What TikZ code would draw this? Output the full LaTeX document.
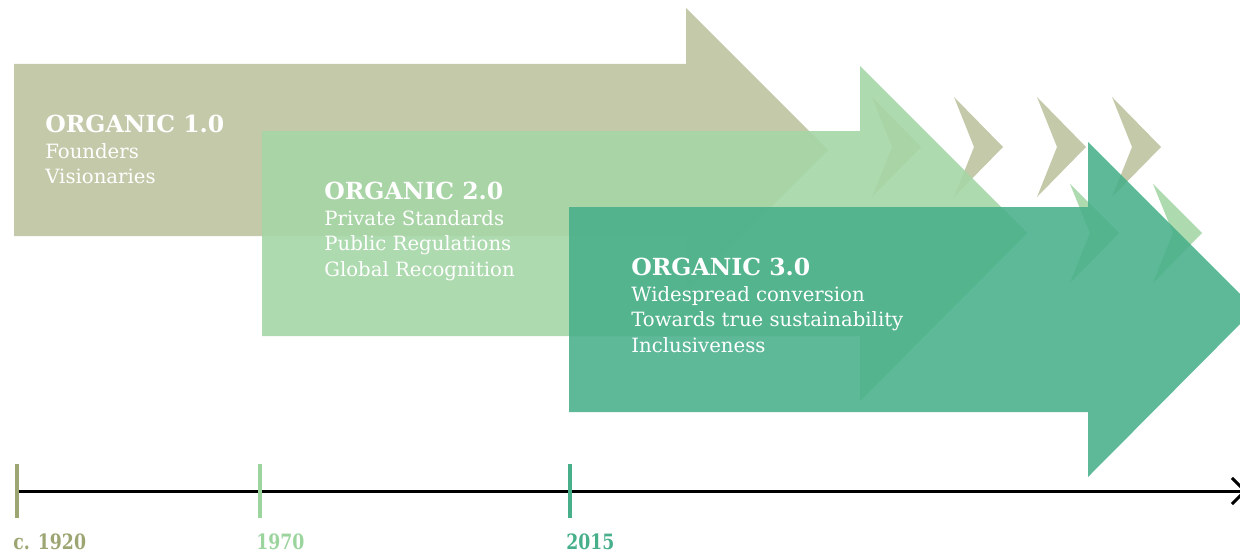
\documentclass[tikz,border=0pt]{standalone}
\usepackage{fontspec}
\setmainfont{DejaVu Serif}
\newfontfamily\yearfont{DejaVu Serif}[FakeStretch=0.82]
\usepackage{xcolor}
\usepackage{tikz}
\usetikzlibrary{arrows.meta,positioning}

\definecolor{orgOne}{HTML}{C4C9A9}
\definecolor{orgOneDark}{HTML}{9DA673}
\definecolor{orgTwo}{HTML}{A5D6A6}
\definecolor{orgTwoDark}{HTML}{9CD49E}
\definecolor{orgThree}{HTML}{47AF8A}
\newcommand{\phasetitle}[1]{{\fontsize{13.4}{14.5}\selectfont\bfseries #1}}

\begin{document}
\begin{tikzpicture}[x=0.02cm, y=-0.02cm,
    arrowOne/.style={fill=orgOne},
    arrowTwo/.style={fill=orgTwo, fill opacity=0.9},
    arrowThree/.style={fill=orgThree, fill opacity=0.88},
    phase/.style={text=white, align=left, inner sep=0pt, anchor=north west, font=\fontsize{11.2}{14.5}\selectfont},
    yeartick/.style={line width=0.08cm},
    year/.style={anchor=base west, inner sep=0pt, font=\yearfont\fontsize{12}{14}\selectfont\bfseries},
    timeline/.style={line width=0.06cm, -{Straight Barb[length=7.4pt, width=14.8pt]}}]
\useasboundingbox (0,0) rectangle (1240,554);
\clip (0,0) rectangle (1240,554);

% big arrows, back to front
\fill[arrowOne] (14,64) -- (686,64) -- (686,8) -- (828,150) -- (686,292) -- (686,236) -- (14,236) -- cycle;
\fill[arrowOne] (872,97) -- (921,147) -- (872,197) -- (892,147) -- cycle;
\fill[arrowOne] (954,97) -- (1003,147) -- (954,197) -- (974,147) -- cycle;
\fill[arrowOne] (1037,97) -- (1086,147) -- (1037,197) -- (1057,147) -- cycle;
\fill[arrowOne] (1112,97) -- (1161,147) -- (1112,197) -- (1132,147) -- cycle;

\fill[arrowTwo] (262,131) -- (860,131) -- (860,66) -- (1027,233) -- (860,401) -- (860,336) -- (262,336) -- cycle;
\fill[arrowTwo] (1070,184) -- (1119,233) -- (1070,283) -- (1090,233) -- cycle;
\fill[arrowTwo] (1153,184) -- (1202,233) -- (1153,283) -- (1173,233) -- cycle;

\fill[arrowThree] (569,207) -- (1088,207) -- (1088,142) -- (1255,309) -- (1088,477) -- (1088,412) -- (569,412) -- cycle;

\node (Organic1) [phase] at (45,115) {\phasetitle{ORGANIC 1.0}\\Founders\\Visionaries};
\node (Organic2) [phase] at (324,182) {\phasetitle{ORGANIC 2.0}\\Private Standards\\Public Regulations\\Global Recognition};
\node (Organic3) [phase] at (631,258) {\phasetitle{ORGANIC 3.0}\\Widespread conversion\\Towards true sustainability\\Inclusiveness};

% time line
\coordinate (Start) at (17,491);
\coordinate (End) at (1247,491);
\draw[timeline] (Start) -- (End);
\draw[yeartick, orgOneDark] (17,464) -- (17,518);
\draw[yeartick, orgTwoDark] (260,464) -- (260,518);
\draw[yeartick, orgThree] (570,464) -- (570,518);
\node (Year1920) [year, orgOneDark] at (13,549) {c. 1920};
\node (Year1970) [year, orgTwoDark] at (256,549) {1970};
\node (Year2015) [year, orgThree] at (566,549) {2015};
\end{tikzpicture}
\end{document}
